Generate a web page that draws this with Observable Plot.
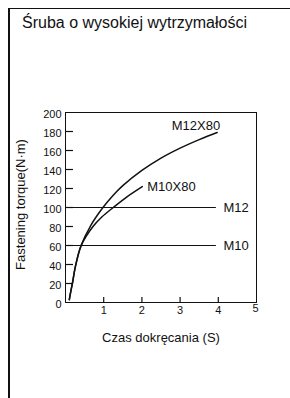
<!DOCTYPE html>
<html>
<head>
<meta charset="utf-8">
<script src="https://cdn.jsdelivr.net/npm/d3@7"></script>
<script src="https://cdn.jsdelivr.net/npm/@observablehq/plot@0.6"></script>
<style>
  html, body { margin: 0; padding: 0; background: #fff; }
  #wrap { position: relative; width: 290px; height: 398px; overflow: hidden; font-family: "Liberation Sans", Arial, sans-serif; }
  #box { position: absolute; left: 8px; top: 8px; width: 400px; height: 500px; border-left: 2px solid #111; border-top: 1.5px solid #111; }
  #title { position: absolute; left: 22px; top: 15px; font-size: 16px; line-height: 16px; color: #111; white-space: nowrap; }
  #chart { position: absolute; left: 0; top: 0; }
</style>
</head>
<body>
<div id="wrap">
  <div id="box"></div>
  <div id="title"></div>
  <div id="chart"></div>
</div>
<script>
const titleText = "Śruba o wysokiej wytrzymałości";
const xLabel = "Czas dokręcania (S)";
const yLabel = "Fastening torque(N·m)";

const timeTicks = [1, 2, 3, 4, 5];
const torqueTicks = [0, 20, 40, 60, 80, 100, 120, 140, 160, 180, 200];

const m12x80Time   = [0.1, 0.14, 0.18, 0.26, 0.41, 0.66, 0.98, 1.25, 1.5, 2.0, 2.5, 3.0, 3.5, 3.97];
const m12x80Torque = [3, 12, 20, 38, 60, 81, 100, 113, 123, 139, 152, 162.5, 171.5, 179];

const m10x80Time   = [0.1, 0.14, 0.18, 0.26, 0.41, 0.72, 0.95, 1.25, 1.6, 2.01];
const m10x80Torque = [3, 12, 20, 38, 60, 80, 90, 100, 111, 122];

const limitNames  = ["M12", "M10"];
const limitTorque = [100, 60];
const limitStart  = 0;
const limitEnd    = 3.95;

document.getElementById("title").textContent = titleText;

const curves = [
  ...m12x80Time.map((t, i) => ({series: "M12X80", t, v: m12x80Torque[i]})),
  ...m10x80Time.map((t, i) => ({series: "M10X80", t, v: m10x80Torque[i]}))
];
const m12End = {series: "M12X80", t: m12x80Time.at(-1), v: m12x80Torque.at(-1)};
const m10End = {series: "M10X80", t: m10x80Time.at(-1), v: m10x80Torque.at(-1)};
const limits = limitNames.map((name, i) => ({name, v: limitTorque[i], t1: limitStart, t2: limitEnd}));

const W = 290, H = 398;
const mL = 65, mR = 34, mT = 112, mB = 96;
const frameW = W - mL - mR, frameH = H - mT - mB;

const plot = Plot.plot({
  width: W,
  height: H,
  marginLeft: mL,
  marginRight: mR,
  marginTop: mT,
  marginBottom: mB,
  style: {fontFamily: "Liberation Sans, Arial, sans-serif", fontSize: "11px", color: "#111", background: "transparent", overflow: "visible"},
  x: {domain: [0, 5], label: null},
  y: {domain: [0, 200], label: null},
  marks: [
    Plot.axisY({ticks: torqueTicks, tickSize: 0, tickPadding: 4, label: null, fontSize: 11, dy: 1.5}),
    Plot.axisX({ticks: timeTicks.filter(d => d < 5), tickFormat: d3.format("d"), tickSize: 0, tickPadding: 4, label: null, fontSize: 11}),
    Plot.axisX({ticks: timeTicks.filter(d => d === 5), tickFormat: d3.format("d"), tickSize: 0, tickPadding: 4, label: null, fontSize: 11, dy: -2, dx: -1}),
    Plot.tickY(torqueTicks.filter(d => d > 0 && d < 200), {y: d => d, stroke: "#111", strokeWidth: 1.2, insetRight: frameW - 8}),
    Plot.tickX(timeTicks.filter(d => d < 5), {x: d => d, stroke: "#111", strokeWidth: 1.2, insetTop: frameH - 5}),
    Plot.ruleY(limits, {y: "v", x1: "t1", x2: "t2", stroke: "#111", strokeWidth: 1}),
    Plot.text(limits, {x: "t2", y: "v", text: "name", textAnchor: "start", dx: 7, fontSize: 13, fill: "#111"}),
    Plot.line(curves, {x: "t", y: "v", z: "series", stroke: "#111", strokeWidth: 1.5, curve: "catmull-rom"}),
    Plot.text([m12End], {x: "t", y: "v", text: "series", textAnchor: "end", dx: 3, dy: -7, fontSize: 13, fill: "#111"}),
    Plot.text([m10End], {x: "t", y: "v", text: "series", textAnchor: "start", dx: 5, dy: 0, fontSize: 13, fill: "#111"}),
    Plot.frame({stroke: "#111", strokeWidth: 1}),
    Plot.text([xLabel], {frameAnchor: "bottom", dy: 39, fontSize: 13, fill: "#111"}),
    Plot.text([yLabel], {frameAnchor: "left", textAnchor: "middle", dx: -45, dy: -3, rotate: -90, fontSize: 13, fill: "#111"})
  ]
});
document.getElementById("chart").appendChild(plot);
</script>
</body>
</html>
